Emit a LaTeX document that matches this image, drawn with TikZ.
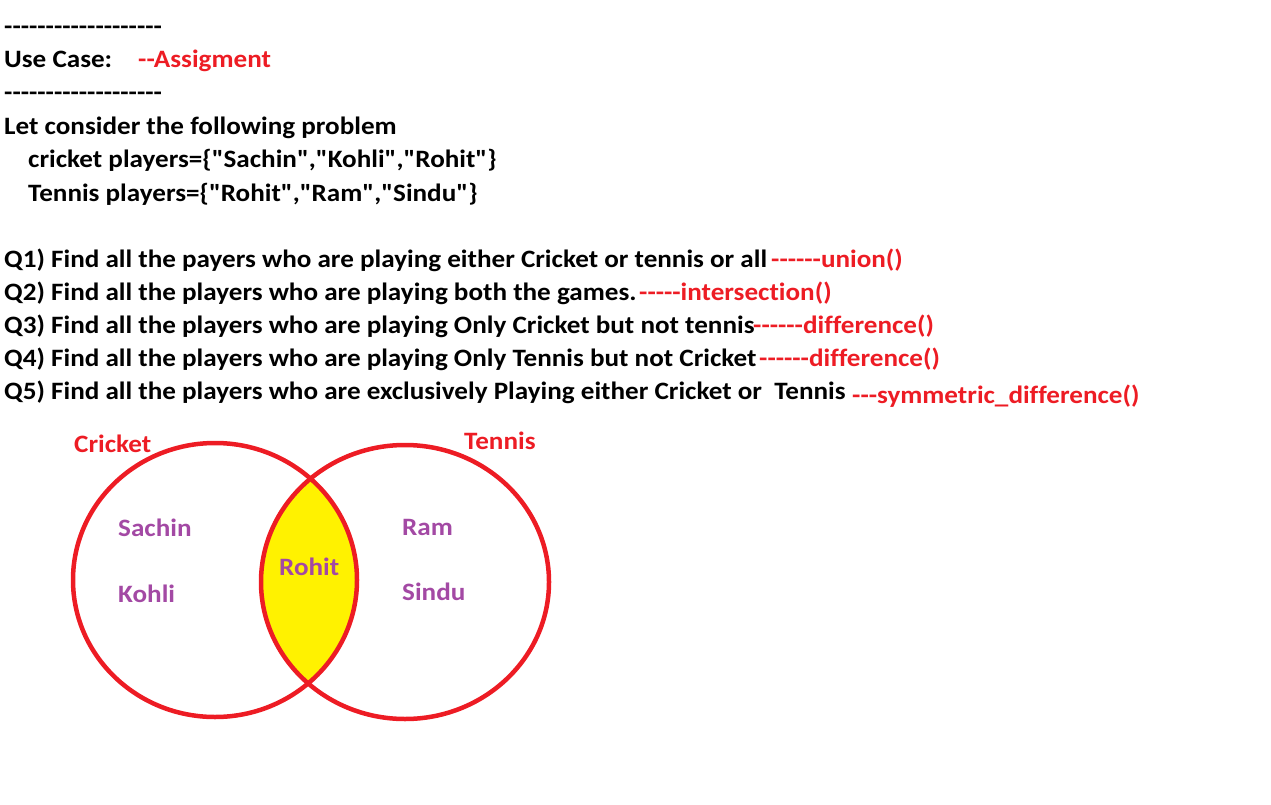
\documentclass[tikz,border=0pt]{standalone}
\usepackage{fontspec}
\setmainfont{Carlito}[Ligatures={TeXOff,CommonOff},FakeStretch=1.085]
\usetikzlibrary{positioning}
\definecolor{setred}{HTML}{ED1C24}
\definecolor{setpurple}{HTML}{A349A4}
\definecolor{setyellow}{HTML}{FFF200}

\begin{document}
\begin{tikzpicture}[x=1pt,y=-1pt,
  txt/.style={anchor=base west,inner sep=0pt,font=\fontsize{25}{29}\selectfont\bfseries},
  ans/.style={txt,text=setred},
  member/.style={txt,text=setpurple},
  setname/.style={txt,text=setred},
  ring/.style={draw=setred,line width=4.5pt}]
\useasboundingbox (0,0) rectangle (1271,805);
% header
\node[txt] (rule1) at (4,35) {-------------------};
\node[txt] (usecase) at (4,68) {Use Case:};
\node[ans] (assign) at (138,68) {--Assigment};
\node[txt] (rule2) at (4,101) {-------------------};
\node[txt] (problem) at (4,135) {Let consider the following problem};
\node[txt] (cset) at (28,168) {cricket players=\{"Sachin","Kohli","Rohit"\}};
\node[txt] (tset) at (28,201) {Tennis players=\{"Rohit","Ram","Sindu"\}};
% questions
\node[txt] (q1) at (4,267) {Q1) Find all the payers who are playing either Cricket or tennis or all};
\node[txt] (q2) at (4,300) {Q2) Find all the players who are playing both the games.};
\node[txt] (q3) at (4,333) {Q3) Find all the players who are playing Only Cricket but not tennis};
\node[txt] (q4) at (4,366) {Q4) Find all the players who are playing Only Tennis but not Cricket};
\node[txt] (q5) at (4,399) {Q5) Find all the players who are exclusively Playing either Cricket or\ \ Tennis};
\node[ans] (a1) at (771,267) {------union()};
\node[ans] (a2) at (639,300) {-----intersection()};
\node[ans] (a3) at (753,333) {------difference()};
\node[ans] (a4) at (759,366) {------difference()};
\node[ans] (a5) at (852,403) {---symmetric\_difference()};
% venn
\begin{scope}
\clip (215,580) ellipse [x radius=142,y radius=137];
\fill[setyellow] (405,582) ellipse [x radius=144,y radius=137];
\end{scope}
\draw[ring] (215,580) ellipse [x radius=142,y radius=137];
\draw[ring] (405,582) ellipse [x radius=144,y radius=137];
\node[setname] (cricket) at (74,452) {Cricket};
\node[setname] (tennis) at (464,449) {Tennis};
\node[member] (sachin) at (118,536) {Sachin};
\node[member] (kohli) at (118,602) {Kohli};
\node[member] (rohit) at (279,575) {Rohit};
\node[member] (ram) at (402,535) {Ram};
\node[member] (sindu) at (402,600) {Sindu};
\end{tikzpicture}
\end{document}
